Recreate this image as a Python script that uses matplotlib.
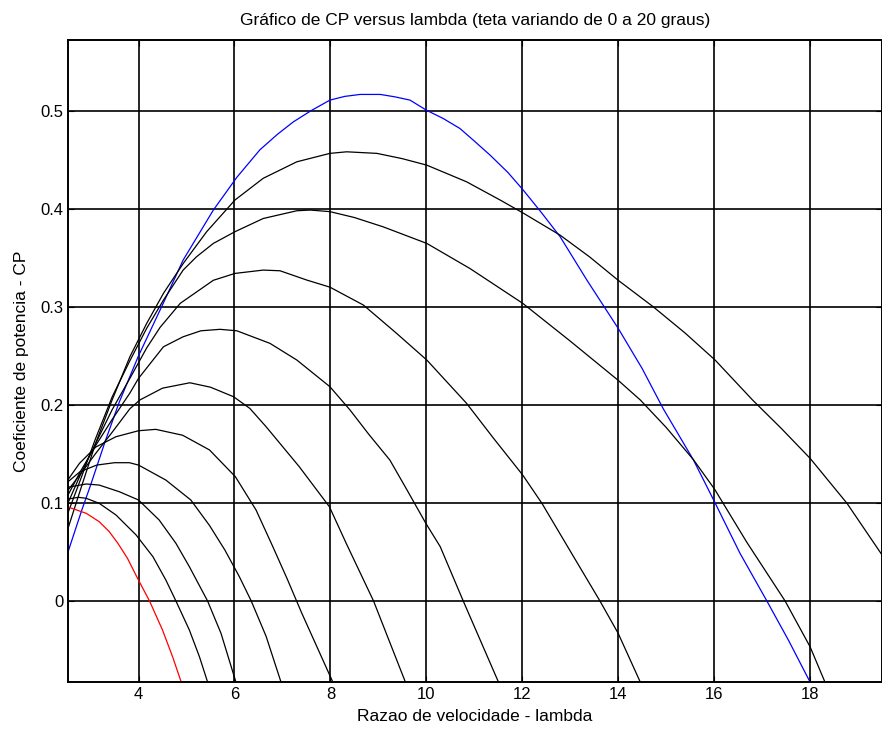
import matplotlib
matplotlib.use("Agg")
import matplotlib.pyplot as plt

plt.rcParams['font.family'] = ['Liberation Sans', 'DejaVu Sans']

# curvas: lambda e CP para cada teta (0, 2, ..., 20 graus)
lam_00 = [2.53, 2.82, 3.0, 3.3, 3.6, 4.0, 4.52, 4.93, 5.56, 6.05, 6.53, 6.9, 7.23, 7.6, 7.99, 8.3, 8.62,
          9.04, 9.35, 9.66, 10.0, 10.35, 10.7, 11.0, 11.33, 11.7, 12.02, 12.4, 12.79, 13.35, 14.0, 14.5,
          14.94, 15.57, 16.01, 16.54, 17.1, 17.55, 18.0]
cp_00 = [0.05, 0.093, 0.118, 0.162, 0.203, 0.25, 0.304, 0.3476, 0.3986, 0.432, 0.46, 0.476, 0.4886, 0.500,
         0.5107, 0.5145, 0.5165, 0.5165, 0.514, 0.5107, 0.5005, 0.492, 0.4818, 0.469, 0.4546, 0.437, 0.419,
         0.396, 0.3714, 0.327, 0.278, 0.237, 0.196, 0.1437, 0.101, 0.0486, 0.0, -0.04, -0.0826]

lam_02 = [2.53, 2.8, 3.1, 3.45, 3.82, 4.17, 4.52, 4.93, 5.42, 6.01, 6.6, 7.3, 7.99, 8.34, 8.97, 9.5,
          10.01, 10.84, 11.54, 12.01, 12.79, 13.4, 14.0, 14.73, 15.4, 16.02, 16.8, 17.4, 18.0, 18.77, 19.5]
cp_02 = [0.074, 0.115, 0.16, 0.205, 0.249, 0.283, 0.3137, 0.344, 0.3765, 0.4088, 0.431, 0.4478, 0.4564,
         0.458, 0.4564, 0.451, 0.4444, 0.4274, 0.4088, 0.3958, 0.373, 0.351, 0.327, 0.300, 0.273, 0.2457,
         0.205, 0.176, 0.1455, 0.0996, 0.047]

lam_04 = [2.53, 2.8, 3.1, 3.45, 3.82, 4.17, 4.52, 4.93, 5.21, 5.56, 6.01, 6.6, 7.3, 7.58, 7.99, 8.5,
          9.1, 10.01, 10.91, 12.01, 13.0, 14.0, 14.46, 15.0, 15.57, 16.01, 16.68, 17.48, 18.0, 18.31]
cp_04 = [0.09, 0.125, 0.165, 0.208, 0.245, 0.278, 0.3068, 0.3374, 0.351, 0.3646, 0.3765, 0.390, 0.3979,
         0.3986, 0.397, 0.391, 0.3815, 0.3646, 0.339, 0.3035, 0.265, 0.225, 0.205, 0.177, 0.144, 0.114,
         0.060, 0.0, -0.0466, -0.0826]

lam_06 = [2.53, 2.8, 3.1, 3.45, 3.82, 4.17, 4.45, 4.87, 5.56, 6.01, 6.6, 6.95, 7.51, 7.99, 8.69, 9.38,
          10.01, 10.84, 11.4, 12.01, 12.41, 13.07, 13.62, 14.0, 14.46]
cp_06 = [0.10, 0.13, 0.16, 0.195, 0.227, 0.258, 0.279, 0.3035, 0.327, 0.334, 0.3374, 0.3367, 0.3272,
         0.320, 0.3017, 0.2729, 0.2457, 0.2015, 0.166, 0.1284, 0.0996, 0.0452, 0.0, -0.033, -0.0826]

lam_08 = [2.53, 2.8, 3.1, 3.45, 3.82, 4.0, 4.52, 4.93, 5.3, 5.7, 6.05, 6.74, 7.3, 7.99, 8.41, 8.8, 9.24,
          9.6, 9.99, 10.29, 10.77, 11.5]
cp_08 = [0.108, 0.133, 0.158, 0.185, 0.212, 0.227, 0.2592, 0.2694, 0.2755, 0.277, 0.2755, 0.2627, 0.2457,
         0.2185, 0.1947, 0.17, 0.1437, 0.113, 0.0792, 0.0554, 0.0, -0.0822]

lam_10 = [2.53, 2.8, 3.1, 3.45, 3.82, 4.03, 4.5, 5.07, 5.5, 5.98, 6.32, 6.66, 7.35, 7.98, 8.33, 8.9, 9.56]
cp_10 = [0.113, 0.13, 0.15, 0.172, 0.196, 0.205, 0.217, 0.2225, 0.218, 0.2083, 0.1964, 0.1777, 0.137,
         0.0961, 0.0588, 0.0, -0.0822]

lam_12 = [2.52, 2.77, 3.11, 3.53, 4.0, 4.36, 4.92, 5.48, 6.02, 6.45, 6.8, 7.1, 7.4, 7.75, 8.05]
cp_12 = [0.123, 0.1404, 0.157, 0.1675, 0.1736, 0.175, 0.169, 0.154, 0.1267, 0.0928, 0.0554, 0.0225,
         -0.012, -0.05, -0.0826]

lam_14 = [2.53, 2.78, 3.13, 3.5, 3.81, 4.0, 4.57, 5.09, 5.48, 5.8, 6.1, 6.35, 6.66, 6.97]
cp_14 = [0.1216, 0.1318, 0.1386, 0.141, 0.141, 0.1386, 0.1233, 0.103, 0.077, 0.052, 0.025, 0.0, -0.036,
         -0.0826]

lam_16 = [2.52, 2.91, 3.18, 3.6, 4.0, 4.43, 4.78, 5.06, 5.44, 5.72, 6.03]
cp_16 = [0.1159, 0.1193, 0.1182, 0.1114, 0.103, 0.0826, 0.0588, 0.035, 0.0, -0.033, -0.0826]

lam_18 = [2.53, 2.75, 2.91, 3.18, 3.53, 3.95, 4.3, 4.57, 4.78, 5.06, 5.27, 5.44]
cp_18 = [0.104, 0.1057, 0.1047, 0.0996, 0.0877, 0.0673, 0.0452, 0.0214, 0.0, -0.0296, -0.0568, -0.0826]

lam_20 = [2.52, 2.91, 3.18, 3.39, 3.57, 3.77, 3.98, 4.23, 4.5, 4.71, 4.89]
cp_20 = [0.096, 0.0894, 0.0809, 0.0707, 0.0588, 0.0435, 0.0231, 0.0, -0.0296, -0.0568, -0.0826]

x_ticks = [4, 6, 8, 10, 12, 14, 16, 18]
y_ticks = [0, 0.1, 0.2, 0.3, 0.4, 0.5]
y_tick_labels = ['0', '0.1', '0.2', '0.3', '0.4', '0.5']

fig = plt.figure(figsize=(8.82, 7.29), dpi=100)
ax = fig.add_axes([68 / 882, 47 / 729, 814 / 882, 642 / 729])

ax.plot(lam_00, cp_00, color='blue', lw=0.9)
for lam, cp in [(lam_02, cp_02), (lam_04, cp_04), (lam_06, cp_06), (lam_08, cp_08), (lam_10, cp_10),
                (lam_12, cp_12), (lam_14, cp_14), (lam_16, cp_16), (lam_18, cp_18)]:
    ax.plot(lam, cp, color='black', lw=0.9)
ax.plot(lam_20, cp_20, color='red', lw=0.9)

ax.set_xlim(2.53, 19.5)
ax.set_ylim(-0.0826, 0.572)
ax.set_xticks(x_ticks)
ax.set_yticks(y_ticks)
ax.set_yticklabels(y_tick_labels)
ax.grid(True, color='black', lw=1.2, ls='-')
ax.set_axisbelow(True)
ax.tick_params(direction='in', top=True, right=True, labelsize=12, length=4)
for s in ax.spines.values():
    s.set_linewidth(1.4)

ax.set_title('Gráfico de CP versus lambda (teta variando de 0 a 20 graus)', fontsize=12.5, pad=11)
ax.set_xlabel('Razao de velocidade - lambda', fontsize=12.5, labelpad=5)
ax.set_ylabel('Coeficiente de potencia - CP', fontsize=12.5, labelpad=8)

fig.savefig('out.png', dpi=100)
